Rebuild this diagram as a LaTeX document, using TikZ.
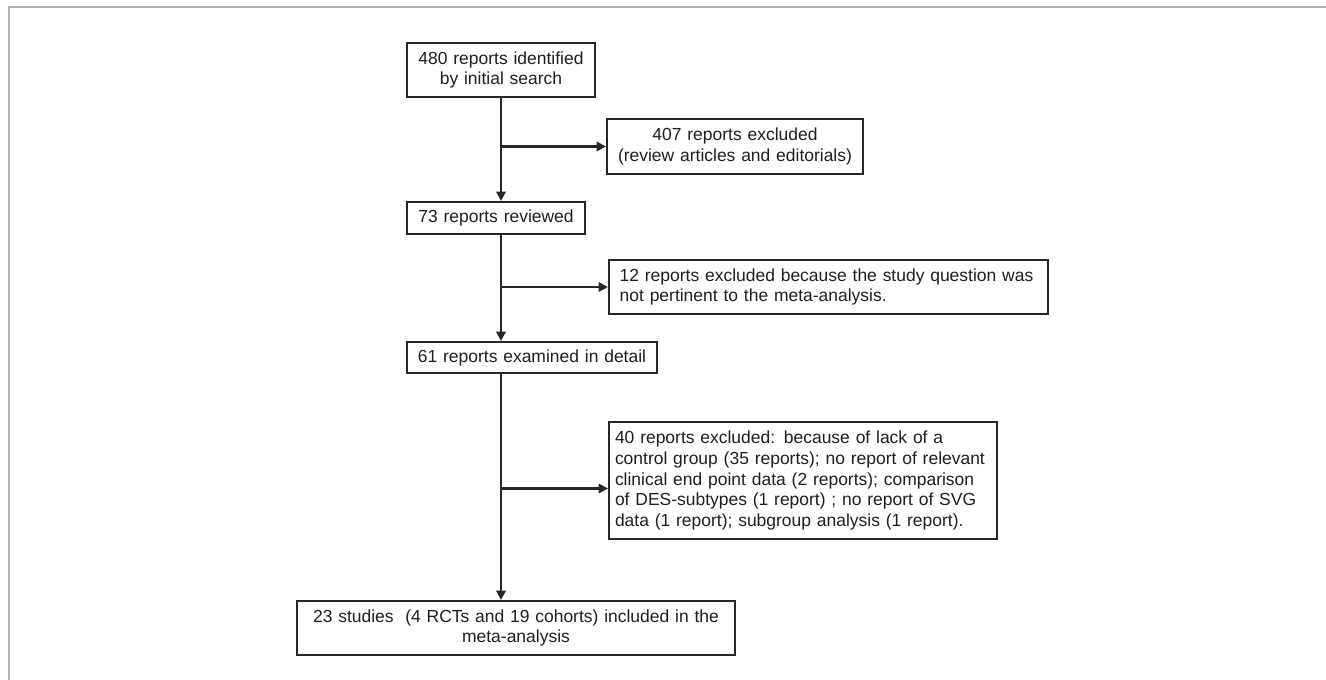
\documentclass[tikz,border=0pt]{standalone}
\usepackage{fontspec}
\setmainfont{Liberation Sans}
\usepackage{tikz}
\usetikzlibrary{arrows.meta, positioning}

\begin{document}
\begin{tikzpicture}[x=0.75pt, y=-0.75pt,
    flowbox/.style={draw=black!85, line width=1.5pt, text=black!88, inner xsep=6pt, inner ysep=0pt, align=center, font=\fontsize{13.1}{15.6}\selectfont},
    notebox/.style={flowbox, inner xsep=8pt, align=left},
    flow/.style={draw=black!85, line width=1.6pt, -{Triangle[length=7pt,width=7pt]}}]

        \useasboundingbox (0,0) rectangle (1326,680);

        % Khung ngoài
        \draw[gray!60, line width=1.5pt] (1326,7.5) -- (8.5,7.5) -- (8.5,680);

        % Các hộp chính
        \node[flowbox, text width=129pt, minimum height=40.5pt] (search) at (501,70) {480 reports identified\\by initial search};
        \node[flowbox, text width=121.5pt, minimum height=24pt] (reviewed) at (496,218) {73 reports reviewed};
        \node[flowbox, text width=175.5pt, minimum height=23.25pt] (examined) at (532,357.5) {61 reports examined in detail};
        \node[flowbox, text width=316.5pt, minimum height=40.5pt] (included) at (516,628) {23 studies \ (4 RCTs and 19 cohorts) included in the\\meta-analysis};

        % Các hộp loại trừ
        \node[flowbox, text width=180pt, minimum height=41.25pt] (excl1) at (735,146.5) {407 reports excluded\\(review articles and editorials)};
        \node[notebox, text width=313.25pt, minimum height=40.5pt] (excl2) at (828.5,287) {12 reports excluded because the study question was\\not pertinent to the meta-analysis.};
        \node[notebox, inner xsep=4.5pt, text width=282pt, minimum height=87.75pt] (excl3) at (803,480.5) {40 reports excluded: because of lack of a\\control group (35 reports); no report of relevant\\clinical end point data (2 reports); comparison\\of DES-subtypes (1 report) ; no report of SVG\\data (1 report); subgroup analysis (1 report).};

        % Các mũi tên
        \draw[flow] (search.south) -- (search.south |- reviewed.north);
        \draw[flow] (search.south |- excl1.west) -- (excl1.west);
        \draw[flow] (reviewed.south -| search.south) -- (search.south |- examined.north);
        \draw[flow] (search.south |- excl2.west) -- (excl2.west);
        \draw[flow] (examined.south -| search.south) -- (search.south |- included.north);
        \draw[flow] ([yshift=-6pt]search.south |- excl3.west) -- ([yshift=-6pt]excl3.west);

\end{tikzpicture}
\end{document}
